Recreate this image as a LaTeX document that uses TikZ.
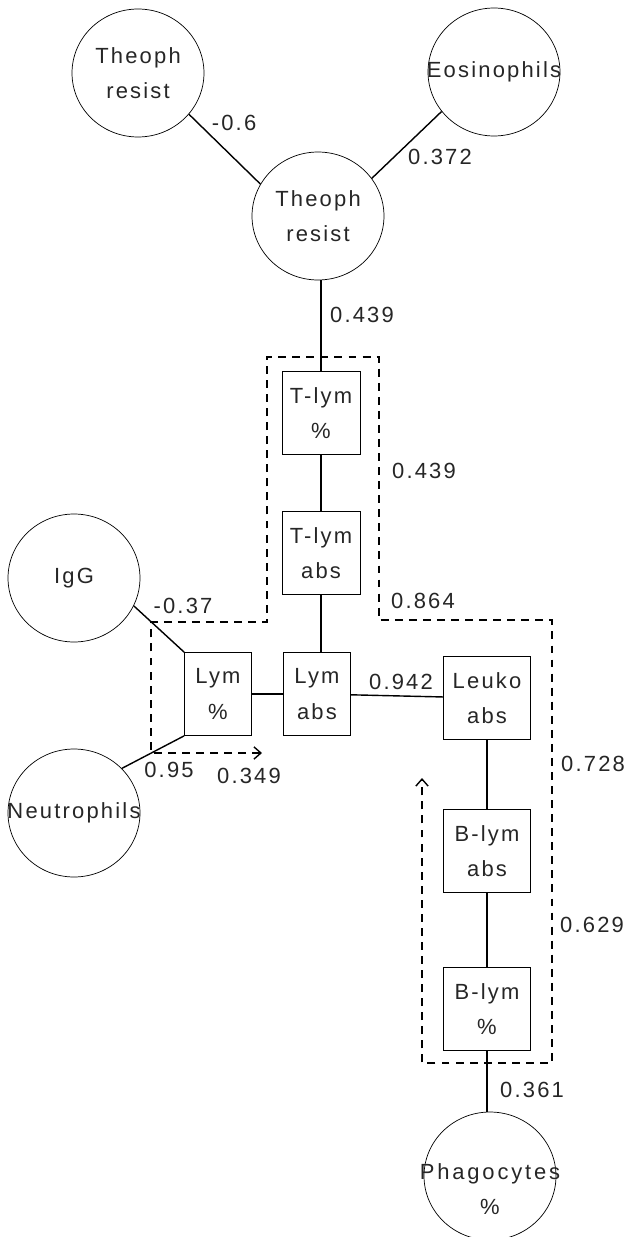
\documentclass[tikz,border=0pt]{standalone}
\usepackage{fontspec}
\setmainfont[LetterSpace=10]{Liberation Sans}
\usepackage{tikz}
\usetikzlibrary{arrows.meta,shapes.geometric}

\begin{document}
\begin{tikzpicture}[
    x=0.02cm, y=-0.02cm,
    var/.style={draw, ellipse, align=center, inner sep=0pt,
                minimum width=2.64cm, minimum height=2.56cm},
    box/.style={draw, rectangle, align=center, inner sep=0pt,
                minimum width=1.56cm, minimum height=1.66cm},
    narrowbox/.style={box, minimum width=1.34cm},
    widebox/.style={box, minimum width=1.74cm},
    link/.style={line width=0.8pt},
    trail/.style={line width=0.8pt, dash pattern=on 4.5pt off 3.5pt,
                  {Straight Barb[length=4pt,width=7pt]}-{Straight Barb[length=4pt,width=7pt]}},
    lbl/.style={inner sep=0pt},
    every node/.style={font=\fontsize{12.5}{20}\selectfont, text=black!85},
  ]
  \useasboundingbox (0,0) rectangle (626,1237);

  % Top circles
  \node[var] (theophA) at (138,73) {Theoph\\resist};
  \node[var] (eosin) at (494,72) {\makebox[0pt]{Eosinophils}};
  \node[var] (theophB) at (318,216) {Theoph\\resist};

  \draw[link] (theophA.-39) -- (theophB.151);
  \draw[link] (eosin.-143) -- (theophB.35);

  % T-lymphocytes
  \node[box] (tlpct) at (321,413) {T-lym\\\%};
  \node[box] (tlabs) at (321,553) {T-lym\\abs};

  \draw[link] (theophB.south -| tlpct.north) -- (tlpct);
  \draw[link] (tlpct) -- (tlabs);

  % Middle row
  \node[var] (igg) at (74,578) {IgG};
  \node[var] (neutro) at (74,813) {\makebox[0pt]{Neutrophils}};
  \node[narrowbox] (lympct) at (218,694) {Lym\\\%};
  \node[narrowbox] (lymabs) at (317,694) {Lym\\abs};
  \node[widebox] (leuko) at (487,698) {Leuko\\abs};

  \draw[link] (tlabs) -- (tlabs |- lymabs.north);
  \draw[link] (igg.-25) -- (lympct.north west);
  \draw[link] (neutro.43) -- (lympct.south west);
  \draw[link] (lympct) -- (lymabs);
  \draw[link] (lymabs) -- (leuko);

  % B-lymphocytes
  \node[widebox] (blabs) at (487,851) {B-lym\\abs};
  \node[widebox] (blpct) at (487,1009) {B-lym\\\%};
  \node[var] (phago) at (490,1176) {};
  \node[align=center] (phagotxt) at (490,1189)
    {\makebox[0pt]{\addfontfeature{LetterSpace=13}Phagocytes}\\\%};

  \draw[link] (leuko) -- (blabs);
  \draw[link] (blabs) -- (blpct);
  \draw[link] (blpct) -- (blpct |- phago.north);

  % Dashed path
  \draw[trail] (262,753) -- (151,753) -- (151,622) -- (267,622) -- (267,357)
    -- (379,357) -- (379,620) -- (552,620) -- (552,1063) -- (422,1063) -- (422,778);

  % Weights
  \node[lbl] (wA) at (234,123) {-0.6};
  \node[lbl] (wB) at (440,157) {0.372};
  \node[lbl] (wC) at (362,315) {0.439};
  \node[lbl] (wD) at (424,471) {0.439};
  \node[lbl] (wE) at (423,601) {0.864};
  \node[lbl] (wF) at (183,606) {-0.37};
  \node[lbl] (wG) at (401,682) {0.942};
  \node[lbl] (wH) at (169,770) {0.95};
  \node[lbl] (wI) at (249,776) {0.349};
  \node[lbl] (wJ) at (593,764) {0.728};
  \node[lbl] (wK) at (592,925) {0.629};
  \node[lbl] (wL) at (532,1090) {0.361};
\end{tikzpicture}
\end{document}
